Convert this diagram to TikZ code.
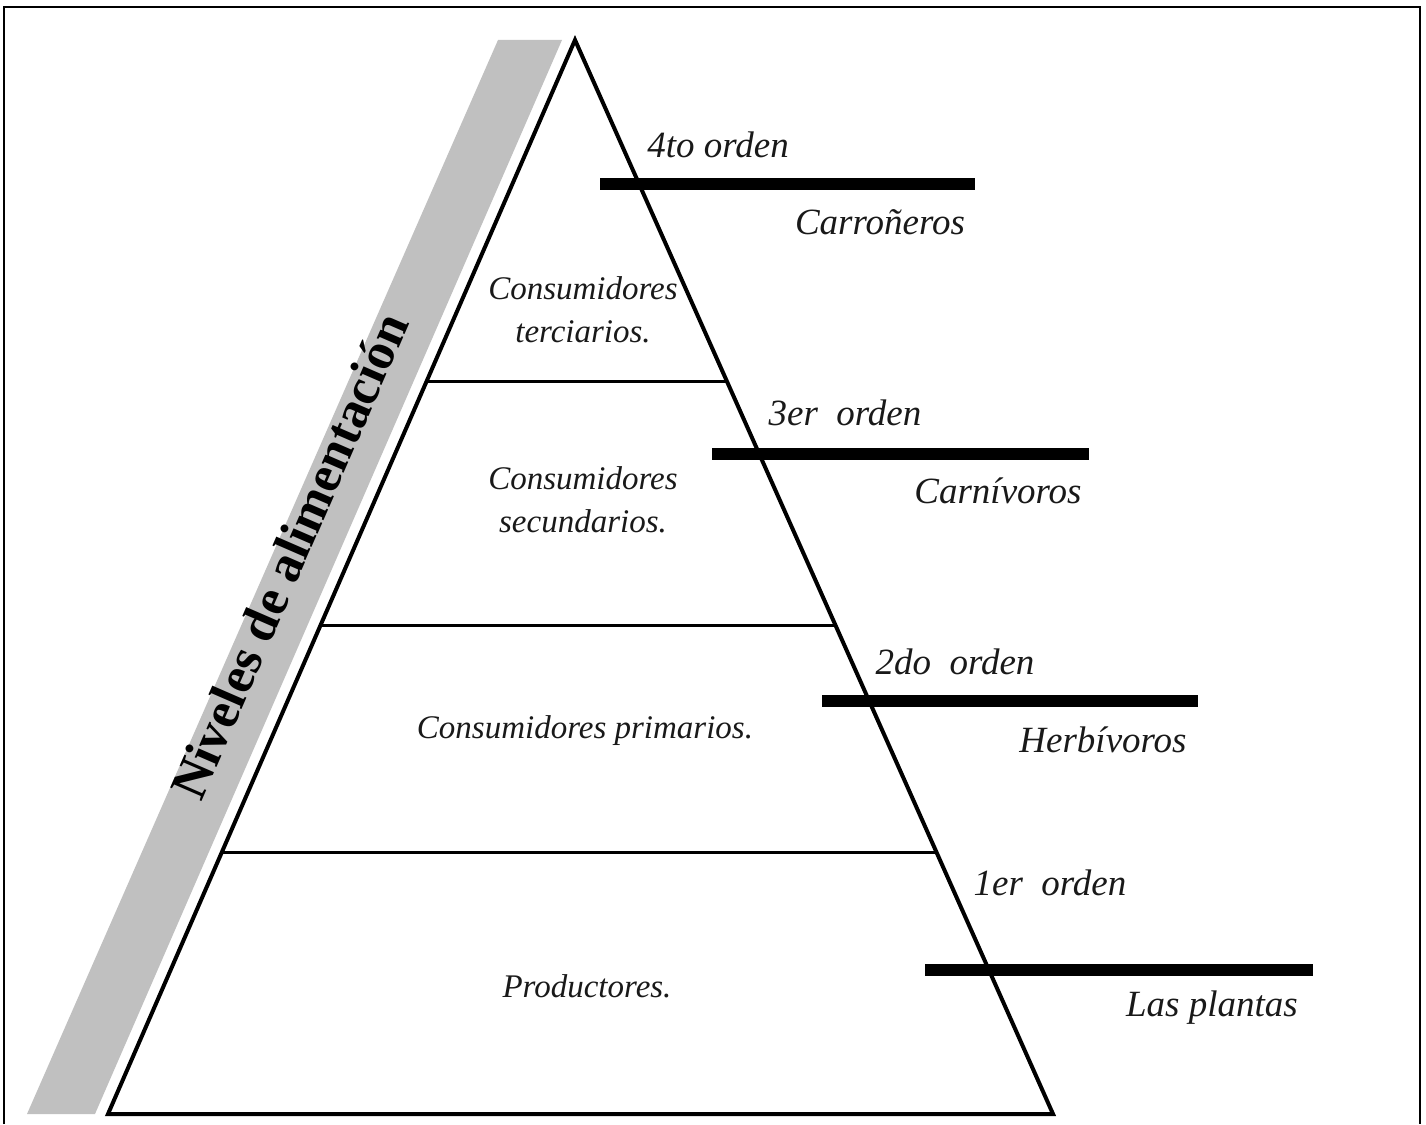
\documentclass[tikz,border=0pt]{standalone}
\usepackage{fontspec}
\setmainfont{Liberation Serif}
\usetikzlibrary{calc}
\definecolor{bandgray}{RGB}{192,192,192}
\definecolor{txt}{RGB}{25,25,25}
\begin{document}
\begin{tikzpicture}[x=1pt,y=-1pt,
  lbl/.style={font=\fontsize{37}{40}\selectfont\itshape, inner sep=0pt, text=txt},
  inlbl/.style={font=\fontsize{33}{43}\selectfont\itshape, align=center, inner sep=0pt, text=txt},
  bar/.style={line width=12pt},
  divider/.style={line width=3pt},
  tri/.style={line width=4pt, line join=miter},
  frame/.style={line width=2pt},
  title/.style={font=\fontsize{52}{56}\selectfont\bfseries, inner sep=0pt, rotate=66.5}]
\useasboundingbox (0,0) rectangle (1426,1124);
% frame
\draw[frame] (4,1124) -- (4,7) -- (1420,7) -- (1420,1124);
% gray band
\fill[bandgray] (498,40) -- (562,40) -- (95,1114) -- (27,1114) -- cycle;
\node[title] (titulo) at (289,556) {Niveles de alimentación};
% pyramid
\coordinate (apex) at (575,40);
\coordinate (bl) at (108,1114);
\coordinate (br) at (1053,1114);
\draw[tri] (apex) -- (br) -- (bl) -- cycle;
% dividers
\coordinate (d1l) at ($(apex)!0.3184!(bl)$);
\coordinate (d1r) at ($(apex)!0.3184!(br)$);
\coordinate (d2l) at ($(apex)!0.5447!(bl)$);
\coordinate (d2r) at ($(apex)!0.5447!(br)$);
\coordinate (d3l) at ($(apex)!0.7561!(bl)$);
\coordinate (d3r) at ($(apex)!0.7561!(br)$);
\draw[divider] (d1l) -- (d1r);
\draw[divider] (d2l) -- (d2r);
\draw[divider] (d3l) -- (d3r);
% bars
\coordinate (b4a) at (600,184); \coordinate (b4b) at (975,184);
\coordinate (b3a) at (712,454); \coordinate (b3b) at (1089,454);
\coordinate (b2a) at (822,701); \coordinate (b2b) at (1198,701);
\coordinate (b1a) at (925,970); \coordinate (b1b) at (1313,970);
\draw[bar] (b4a) -- (b4b);
\draw[bar] (b3a) -- (b3b);
\draw[bar] (b2a) -- (b2b);
\draw[bar] (b1a) -- (b1b);
% right labels
\node[lbl] (o4) at (718,145) {4to orden};
\node[lbl] (c4) at (880,222) {Carroñeros};
\node[lbl] (o3) at (845,413) {3er\ \ orden};
\node[lbl] (c3) at (998,491) {Carnívoros};
\node[lbl] (o2) at (955,662) {2do\ \ orden};
\node[lbl] (c2) at (1103,740) {Herbívoros};
\node[lbl] (o1) at (1050,883) {1er\ \ orden};
\node[lbl] (c1) at (1212,1008) {Las plantas};
% inner labels
\node[inlbl] (n4) at (583,310) {Consumidores\\terciarios.};
\node[inlbl] (n3) at (583,500) {Consumidores\\secundarios.};
\node[inlbl] (n2) at (585,731) {Consumidores primarios.};
\node[inlbl] (n1) at (587,986) {Productores.};
\end{tikzpicture}
\end{document}
